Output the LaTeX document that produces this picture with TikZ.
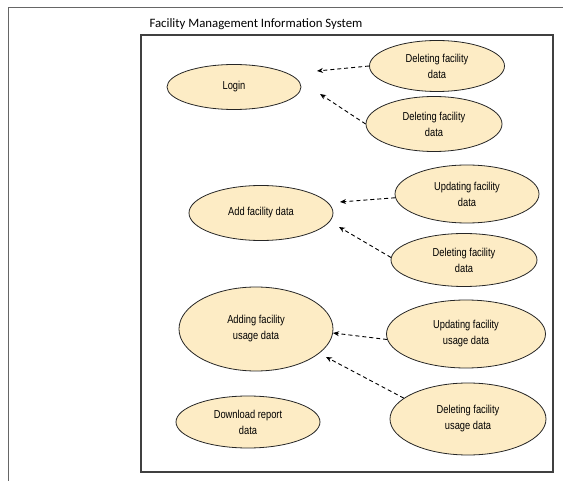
\documentclass[tikz,border=0pt]{standalone}
\usepackage{fontspec}
\setmainfont{Liberation Sans}
\newfontfamily\titlefont{Carlito}
\newfontfamily\ucfont[FakeStretch=0.81]{Liberation Sans}
\usetikzlibrary{shapes.geometric,arrows.meta}
\definecolor{ucfill}{RGB}{253,236,197}
\definecolor{boxline}{RGB}{64,64,64}
\tikzset{
  usecase/.style={ellipse, draw=black!85, line width=0.8pt, fill=ucfill,
    inner sep=0pt, align=center, font=\ucfont\fontsize{11.5}{16}\selectfont},
  extendarrow/.style={draw=black, line width=0.9pt, dash pattern=on 4pt off 3pt,
    -{Stealth[length=6pt,width=5pt]}}
}
\begin{document}
\begin{tikzpicture}[x=1pt,y=-1pt]
\useasboundingbox (0,0) rectangle (563,481);
% page frame
\draw[gray!80!black, line width=0.8pt] (8,481) -- (8,7) -- (563,7);
% system boundary
\node[font=\titlefont\fontsize{12.8}{14}\selectfont, anchor=base] (title) at (256,28) {Facility Management Information System};
\draw[boxline, line width=1.4pt] (141,35) rectangle (553,472);

% use cases
\node[usecase, minimum width=134pt, minimum height=45pt] (login) at (234,87) {Login};
\node[usecase, minimum width=135pt, minimum height=51pt] (delA) at (437,66) {Deleting facility\\data};
\node[usecase, minimum width=136pt, minimum height=55pt] (delB) at (434,124) {Deleting facility\\data};

\node[usecase, minimum width=144pt, minimum height=55pt] (add) at (261,213) {Add facility data};
\node[usecase, minimum width=144pt, minimum height=58pt] (upd) at (467,194) {Updating facility\\data};
\node[usecase, minimum width=146pt, minimum height=53pt] (delC) at (464,260) {Deleting facility\\data};

\node[usecase, minimum width=154pt, minimum height=84pt] (addu) at (256,329) {Adding facility\\usage data};
\node[usecase, minimum width=159pt, minimum height=68pt] (updu) at (466,334) {Updating facility\\usage data};
\node[usecase, minimum width=156pt, minimum height=72pt] (delu) at (468,419) {Deleting facility\\usage data};

\node[usecase, minimum width=144pt, minimum height=52pt] (report) at (248,422) {Download report\\data};

% arrow tips stop short of the base use cases
\coordinate (t1) at (317,71);
\coordinate (t2) at (320,94);
\coordinate (t3) at (340,202);
\coordinate (t4) at (339,227);
\coordinate (t5) at (333,333);
\coordinate (t6) at (326,357);

\draw[extendarrow] (delA.west) -- (t1);
\draw[extendarrow] (delB.west) -- (t2);
\draw[extendarrow] (upd.183) -- (t3);
\draw[extendarrow] (delC.178) -- (t4);
\draw[extendarrow] (updu.184) -- (t5);
\draw[extendarrow] (delu.162) -- (t6);
\end{tikzpicture}
\end{document}
